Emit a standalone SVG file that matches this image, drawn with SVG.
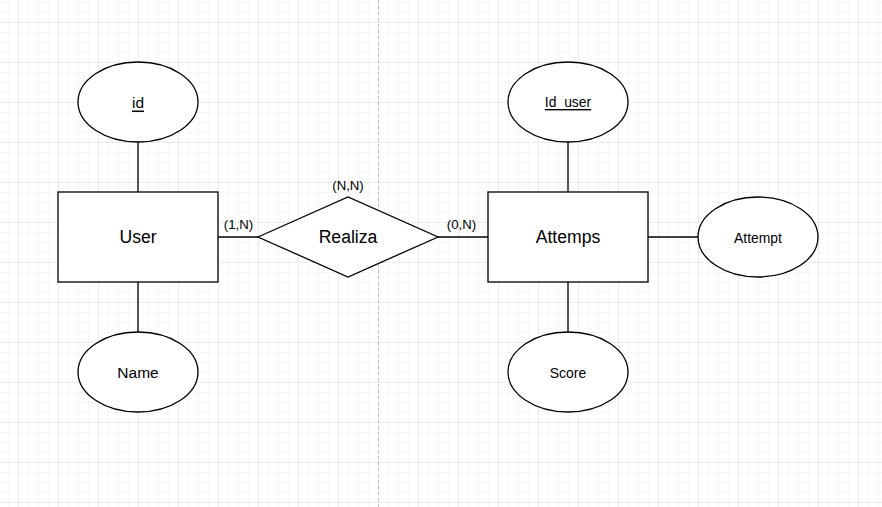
<svg xmlns="http://www.w3.org/2000/svg" width="882" height="507" viewBox="0 0 882 507">
<style>
.sh{fill:#fff;stroke:#000;stroke-width:1.3}
.ln{stroke:#000;stroke-width:1.3;fill:none}
text{font-family:"Liberation Sans",Arial,sans-serif;fill:#000;text-anchor:middle;dominant-baseline:central}
.big{font-size:17.6px}
.mid{font-size:15.5px}
.sm{font-size:13.9px}
.lab{font-size:13.2px}
.u{text-decoration:underline}
</style>
<defs>
<pattern id="minor" x="18" y="22" width="10" height="10" patternUnits="userSpaceOnUse">
<path d="M0 0H10M0 0V10" stroke="#efefef" stroke-width="1" fill="none"/>
</pattern>
<pattern id="major" x="18" y="22" width="40" height="40" patternUnits="userSpaceOnUse">
<path d="M0 0H40M0 0V40" stroke="#e0e0e0" stroke-width="1" fill="none"/>
</pattern>
</defs>
<rect width="882" height="507" fill="#fff"/>
<rect width="882" height="507" fill="url(#minor)"/>
<rect width="882" height="507" fill="url(#major)"/>
<line x1="378.5" y1="0" x2="378.5" y2="507" stroke="#c0c0c0" stroke-width="1" stroke-dasharray="3,3"/>
<g id="connectors">
<line class="ln" x1="138" y1="142" x2="138" y2="192"/>
<line class="ln" x1="138" y1="282" x2="138" y2="332"/>
<line class="ln" x1="218" y1="237" x2="258" y2="237"/>
<line class="ln" x1="438" y1="237" x2="488" y2="237"/>
<line class="ln" x1="568" y1="142" x2="568" y2="192"/>
<line class="ln" x1="568" y1="282" x2="568" y2="332"/>
<line class="ln" x1="648" y1="237" x2="698" y2="237"/>
<text class="lab" x="238.5" y="224">(1,N)</text>
<text class="lab" x="461.5" y="224">(0,N)</text>
</g>
<g id="id">
<ellipse class="sh" cx="138" cy="102" rx="60" ry="40"/>
<text class="mid u" x="138" y="102">id</text>
</g>
<g id="user">
<rect class="sh" x="58" y="192" width="160" height="90"/>
<text class="big" x="138" y="237">User</text>
</g>
<g id="name">
<ellipse class="sh" cx="138" cy="372" rx="60" ry="40"/>
<text class="mid" x="138" y="372">Name</text>
</g>
<g id="realiza">
<polygon class="sh" points="258,237 348,197 438,237 348,277"/>
<text class="big" x="348" y="237">Realiza</text>
<text class="lab" x="348" y="185">(N,N)</text>
</g>
<g id="attemps">
<rect class="sh" x="488" y="192" width="160" height="90"/>
<text class="big" x="568" y="237">Attemps</text>
</g>
<g id="id_user">
<ellipse class="sh" cx="568" cy="102" rx="60" ry="40"/>
<text class="sm u" x="568" y="102">Id_user</text>
</g>
<g id="attempt">
<ellipse class="sh" cx="758" cy="237" rx="60" ry="40"/>
<text class="sm" x="758" y="238">Attempt</text>
</g>
<g id="score">
<ellipse class="sh" cx="568" cy="372" rx="60" ry="40"/>
<text class="sm" x="568" y="373">Score</text>
</g>
</svg>
